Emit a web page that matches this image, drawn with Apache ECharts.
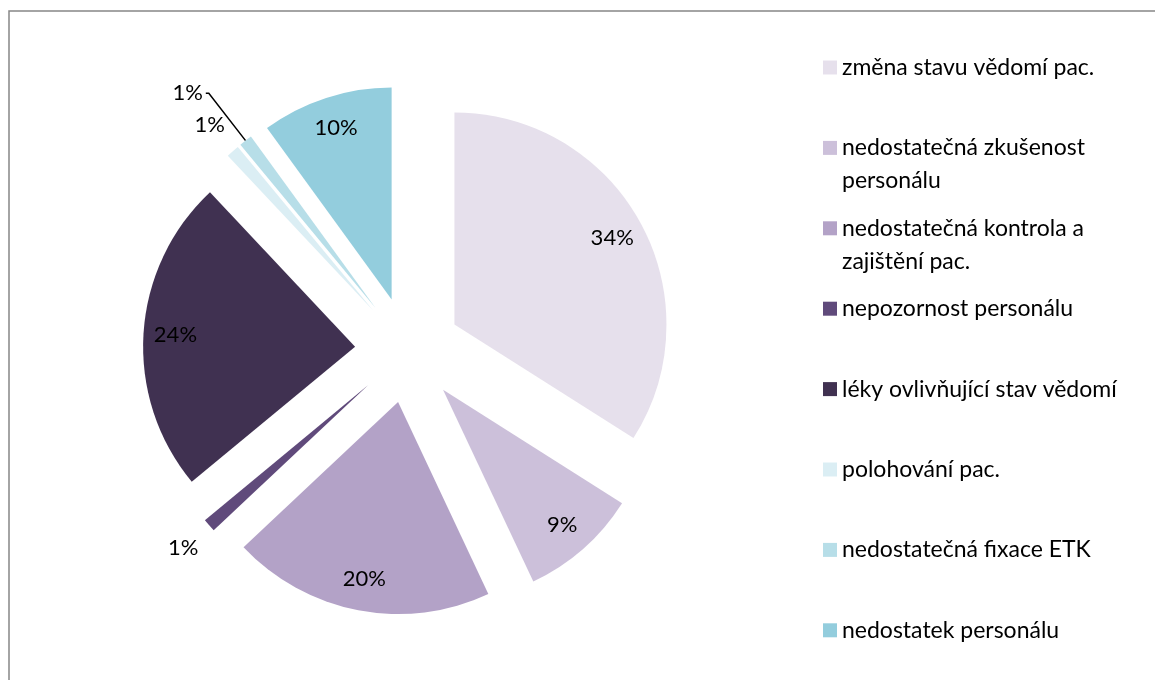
<!DOCTYPE html>
<html>
<head>
<meta charset="utf-8">
<script src="https://cdn.jsdelivr.net/npm/echarts@6/dist/echarts.min.js"></script>
<style>
  html, body { margin: 0; padding: 0; background: #ffffff; }
  #chart { width: 1155px; height: 680px; }
</style>
</head>
<body>
<div id="chart"></div>
<script>
// Causes, in drawing order (clockwise from 12 o'clock)
const categories = [
  'změna stavu vědomí pac.',
  'nedostatečná zkušenost personálu',
  'nedostatečná kontrola a zajištění pac.',
  'nepozornost personálu',
  'léky ovlivňující stav vědomí',
  'polohování pac.',
  'nedostatečná fixace ETK',
  'nedostatek personálu'
];
// Share of each cause, in percent
const shares = [34, 9, 20, 1, 24, 1, 1, 10];
// Legend text, wrapped the way it is printed
const legendLabels = [
  ['změna stavu vědomí pac.'],
  ['nedostatečná zkušenost', 'personálu'],
  ['nedostatečná kontrola a', 'zajištění pac.'],
  ['nepozornost personálu'],
  ['léky ovlivňující stav vědomí'],
  ['polohování pac.'],
  ['nedostatečná fixace ETK'],
  ['nedostatek personálu']
];
const colors = ['#E6E0EC', '#CCC0DA', '#B3A2C7', '#604A7B', '#403151', '#DBEEF4', '#B7DEE8', '#93CDDD'];

// Which slices carry their label where
const LABEL_MID = [true, true, true, false, true, false, false, true];   // inside the slice
const LABEL_FAR = [false, false, false, true, false, true, false, false]; // just beyond the slice
const LABEL_LEADER = [false, false, false, false, false, false, true, false]; // with a leader line

const FONT = 'Lato, "Open Sans", sans-serif';
const CENTER = [408, 350];
const R = 212;
const EXPLODE = 53;

const legendText = {};
categories.forEach((c, i) => {
  const lines = legendLabels[i];
  // three text rows per entry so every marker sits on the first printed row
  legendText[c] = '\n' + lines.join('\n') + (lines.length === 1 ? '\n' : '');
});

const pct = p => p.value + '%';
const labelText = { color: '#000000', fontFamily: FONT, fontSize: 22 };

function pieSeries(radius, showFn, extra) {
  return Object.assign({
    type: 'pie',
    center: CENTER,
    radius: [0, radius],
    startAngle: 90,
    clockwise: true,
    selectedMode: 'multiple',
    selectedOffset: EXPLODE,
    avoidLabelOverlap: false,
    animation: false,
    emphasis: { disabled: true },
    data: categories.map((name, i) => ({
      name: name,
      value: shares[i],
      selected: true,
      label: { show: showFn(i) }
    }))
  }, extra);
}

// Visible slices
const slices = pieSeries(R, i => LABEL_LEADER[i], {
  itemStyle: { borderWidth: 0 },
  label: Object.assign({ position: 'outside', formatter: pct, distanceToLabelLine: 3 }, labelText),
  labelLine: { show: true, length: 60, length2: 3, smooth: false, lineStyle: { color: '#000000', width: 1.5 } }
});
slices.data.forEach((d, i) => { d.itemStyle = { color: colors[i] }; });

// Transparent companions that only carry the percentage labels
const midLabels = pieSeries(R * 1.67, i => LABEL_MID[i], {
  silent: true,
  itemStyle: { color: 'rgba(0,0,0,0)', borderWidth: 0 },
  label: Object.assign({ position: 'inside', formatter: pct }, labelText),
  labelLine: { show: false }
});
const farLabels = pieSeries(R * 2.3, i => LABEL_FAR[i], {
  silent: true,
  itemStyle: { color: 'rgba(0,0,0,0)', borderWidth: 0 },
  label: Object.assign({ position: 'inside', formatter: pct }, labelText),
  labelLine: { show: false }
});

const chart = echarts.init(document.getElementById('chart'), null, { renderer: 'canvas' });
chart.setOption({
  backgroundColor: '#ffffff',
  animation: false,
  color: colors,
  graphic: [{
    type: 'rect',
    shape: { x: 9, y: 11, width: 1170, height: 700 },
    style: { fill: 'none', stroke: '#868686', lineWidth: 1.5 },
    silent: true
  }],
  legend: {
    orient: 'vertical',
    left: 823,
    top: 18,
    padding: 0,
    itemGap: -18.6,
    itemWidth: 14,
    itemHeight: 14,
    icon: 'rect',
    selectedMode: false,
    data: categories,
    formatter: name => legendText[name],
    textStyle: { color: '#000000', fontFamily: FONT, fontSize: 23, lineHeight: 33 }
  },
  series: [slices, midLabels, farLabels]
});
</script>
</body>
</html>
